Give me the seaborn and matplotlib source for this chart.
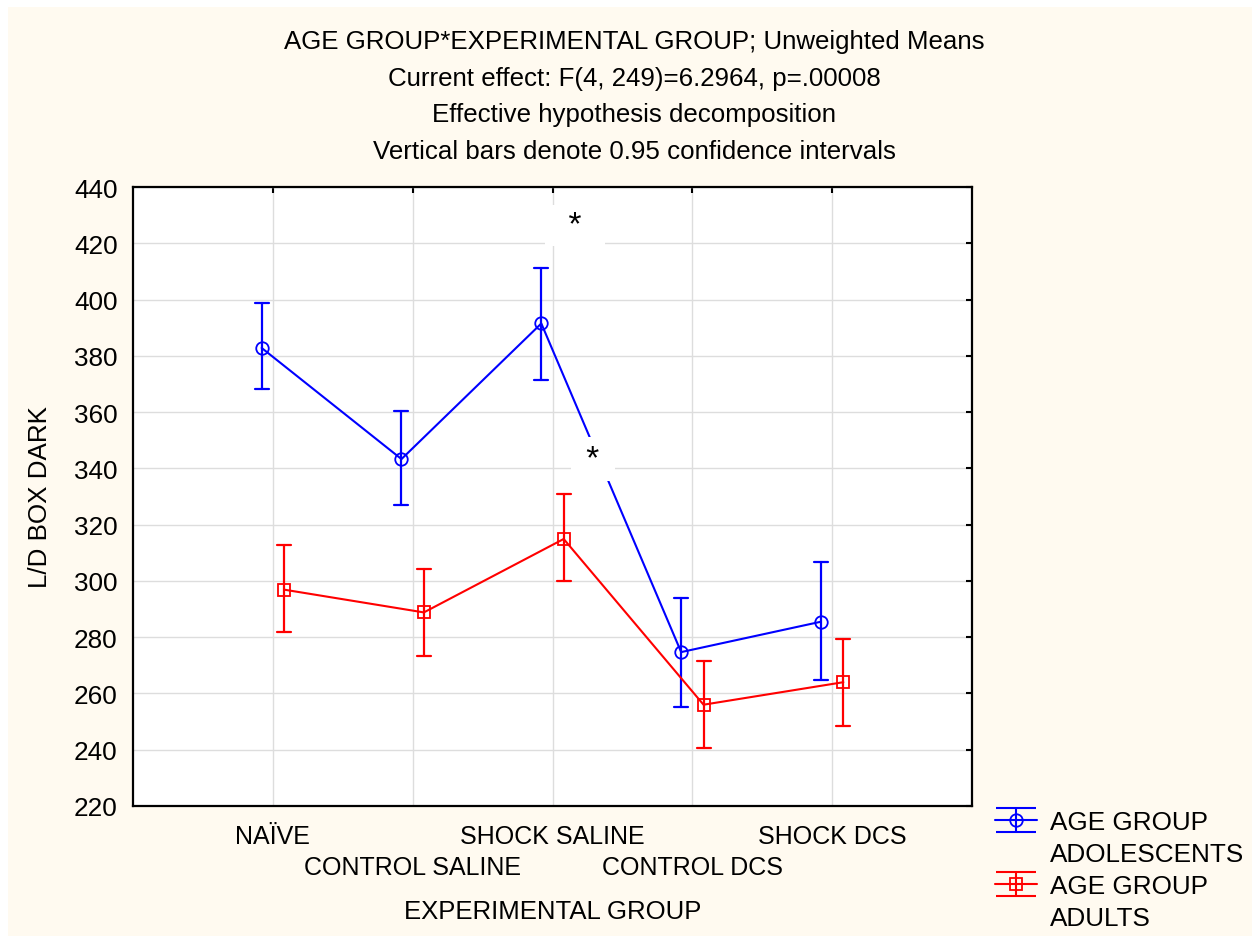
import pandas as pd
import matplotlib
matplotlib.use("Agg")
import matplotlib.pyplot as plt
from matplotlib.lines import Line2D
from matplotlib.patches import Rectangle
from matplotlib.path import Path
import seaborn as sns

# values
groups = ["NAÏVE", "CONTROL SALINE", "SHOCK SALINE", "CONTROL DCS", "SHOCK DCS"]
ages = ["ADOLESCENTS", "ADULTS"]

adol_mean = [382.8, 343.3, 391.5, 274.7, 285.5]
adol_lo = [368.2, 327.0, 371.5, 255.2, 264.7]
adol_hi = [398.7, 360.4, 411.2, 293.8, 306.8]

adult_mean = [296.9, 288.8, 314.9, 256.0, 264.0]
adult_lo = [281.9, 273.4, 299.9, 240.6, 248.4]
adult_hi = [312.8, 304.2, 330.9, 271.5, 279.2]

# significance stars (category position, y)
star_x = [2.16, 2.29]
star_y = [426.3, 343.3]

title = ("AGE GROUP*EXPERIMENTAL GROUP; Unweighted Means\n"
         "Current effect: F(4, 249)=6.2964, p=.00008\n"
         "Effective hypothesis decomposition\n"
         "Vertical bars denote 0.95 confidence intervals")

# long table: lo / mean / hi per point -> median = mean, 100% interval = CI
rows = []
for age, m, lo, hi in [("ADOLESCENTS", adol_mean, adol_lo, adol_hi),
                       ("ADULTS", adult_mean, adult_lo, adult_hi)]:
    for g, a, b, c in zip(groups, m, lo, hi):
        for v in (b, a, c):
            rows.append({"group": g, "age": age, "value": v})
df = pd.DataFrame(rows)

sns.set_style("white")
plt.rcParams["font.family"] = ["Liberation Sans", "DejaVu Sans"]
plt.rcParams["text.color"] = "black"
plt.rcParams["axes.labelcolor"] = "black"

W, H = 1252, 937
fig = plt.figure(figsize=(W / 100, H / 100), dpi=100, facecolor="white")
fig.patches.append(Rectangle((8 / W, 0), 1 - 8 / W, 1 - 8 / H, transform=fig.transFigure,
                             facecolor="#FFFAF0", edgecolor="none", zorder=-10))
ax = fig.add_axes([133 / W, 1 - 807 / H, (972 - 133) / W, (807 - 188) / H])
ax.set_facecolor("white")

palette = {"ADOLESCENTS": "#0000FF", "ADULTS": "#FF0000"}
sns.pointplot(data=df, x="group", y="value", hue="age", order=groups, hue_order=ages,
              estimator="median", errorbar=("pi", 100), palette=palette,
              markers=["o", "s"], linestyles=["-", "-"], dodge=0.16, capsize=0.1,
              err_kws={"linewidth": 1.6}, linewidth=1.5, markersize=9,
              markerfacecolor="none", markeredgewidth=1.3, legend=False, ax=ax)

ax.set_xlim(-1, 5)
ax.set_ylim(220, 440)
ax.set_yticks(range(220, 441, 20))
ax.set_xticks(range(len(groups)))
ax.set_xticklabels(groups, fontsize=18)
ax.tick_params(axis="y", labelsize=18.8)
ax.tick_params(direction="in", top=True, right=True, length=4, width=1.5, colors="black")
ax.tick_params(axis="y", pad=11)
ax.tick_params(axis="x", pad=13)
# staggered category labels
for i, t in enumerate(ax.xaxis.get_major_ticks()):
    if i % 2 == 1:
        t.set_pad(13 + 22)
ax.grid(True, color="#DDDDDD", linewidth=1)
ax.set_axisbelow(True)
for s in ax.spines.values():
    s.set_linewidth(1.6)
    s.set_color("black")
    s.set_visible(True)
    s.set_zorder(20)

ax.set_xlabel("EXPERIMENTAL GROUP", fontsize=18.5, labelpad=15)
ax.set_ylabel("L/D BOX DARK", fontsize=18.7, labelpad=16)

for xs, ys, lab, pad in zip(star_x, star_y, ["  *  ", " * "], [0.15, 0.19]):
    ax.text(xs, ys, lab, fontsize=24, ha="center", va="center", zorder=10,
            bbox=dict(boxstyle=f"square,pad={pad}", facecolor="white", edgecolor="none"))

fig.text(634 / W, 1 - 30 / H, title, ha="center", va="top", fontsize=18.6, linespacing=1.66)

# legend handles: line + marker, with full-width caps and vertical bar
cap_path = Path([(-1, 0.58), (1, 0.58), (-1, -0.58), (1, -0.58), (0, 0.58), (0, -0.58)],
                [Path.MOVETO, Path.LINETO, Path.MOVETO, Path.LINETO, Path.MOVETO, Path.LINETO])


def err_handle(color, marker, msize):
    line = Line2D([], [], color=color, lw=1.5, marker=marker, mfc="none", mec=color,
                  markersize=msize, markeredgewidth=1.3)
    caps = Line2D([], [], linestyle="none", marker=cap_path, color=color,
                  markersize=29, markeredgewidth=1.5, mfc="none")
    return (line, caps)


blank = Line2D([], [], linestyle="none")
fig.legend([err_handle("#0000FF", "o", 9), blank, err_handle("#FF0000", "s", 8), blank],
           ["AGE GROUP", "ADOLESCENTS", "AGE GROUP", "ADULTS"],
           loc="upper left", bbox_to_anchor=(995 / W, 1 - 811 / H), bbox_transform=fig.transFigure,
           frameon=False, fontsize=18.8, borderpad=0, borderaxespad=0, labelspacing=0.3,
           handlelength=1.6, handletextpad=0.5)

fig.savefig("out.png", dpi=100, facecolor=fig.get_facecolor())
